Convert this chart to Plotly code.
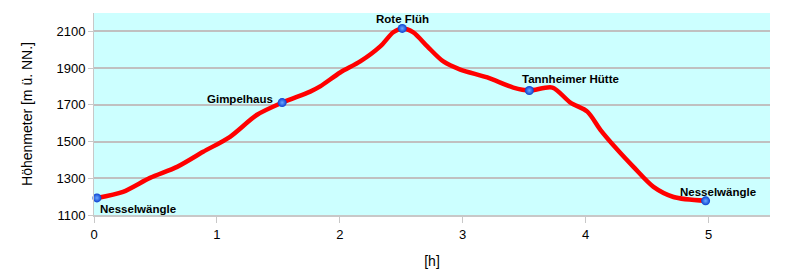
import plotly.graph_objects as go

# profile line (time in h, elevation in m)
hours = [0.024, 0.236, 0.456, 0.676, 0.888, 1.107, 1.327, 1.531, 1.759, 1.84, 2.003, 2.166,
         2.329, 2.435, 2.508, 2.598, 2.712, 2.842, 2.980, 3.200, 3.412, 3.542, 3.730,
         3.876, 4.014, 4.120, 4.259, 4.389, 4.552, 4.715, 4.976]
elev = [1193, 1226, 1302, 1362, 1444, 1526, 1646, 1712, 1772, 1800, 1876, 1936,
        2018, 2095, 2116, 2095, 2018, 1936, 1892, 1849, 1794, 1778, 1794,
        1712, 1663, 1564, 1455, 1362, 1253, 1198, 1177]

# waypoints
wp_names = ["Nesselwängle", "Gimpelhaus", "Rote Flüh", "Tannheimer Hütte", "Nesselwängle"]
wp_hours = [0.024, 1.531, 2.508, 3.542, 4.976]
wp_elev = [1193, 1712, 2116, 1778, 1177]

# label placement (anchor, pixel offsets)
lbl_anchor = ["left", "right", "center", "left", "left"]
lbl_dx = [1, -7, 0, -9, -28]
lbl_dy = [-11, 4, 9, 11, 9]

fig = go.Figure()
fig.add_trace(go.Scatter(x=hours, y=elev, mode="lines",
                         line=dict(color="#ff0000", width=4.5, shape="spline", smoothing=0.8),
                         hoverinfo="skip", showlegend=False))
fig.add_trace(go.Scatter(x=wp_hours, y=wp_elev, mode="markers",
                         marker=dict(size=9, color="#0a3fd0",
                                     gradient=dict(type="radial", color="#6aa8ff"),
                                     line=dict(width=0)),
                         cliponaxis=False, showlegend=False))

for name, xh, ye, anc, dx, dy in zip(wp_names, wp_hours, wp_elev, lbl_anchor, lbl_dx, lbl_dy):
    fig.add_annotation(x=xh, y=ye, text="<b>" + name + "</b>", showarrow=False,
                       xanchor=anc, yanchor="middle", xshift=dx, yshift=dy,
                       font=dict(family="Liberation Sans, Arial", size=11.5, color="#000000"))

fig.update_layout(
    width=790, height=278,
    margin=dict(l=94, r=20, t=13, b=63),
    paper_bgcolor="white", plot_bgcolor="#ccffff",
    font=dict(family="Liberation Sans, Arial", size=13, color="#000000"),
    xaxis=dict(range=[0, 5.5], tickvals=[0, 1, 2, 3, 4, 5], showgrid=False, zeroline=False,
               showline=True, linecolor="#c8c8c8", linewidth=2,
               ticks="outside", ticklen=6, tickcolor="#c8c8c8",
               title=dict(text="[h]", font=dict(size=14), standoff=16)),
    yaxis=dict(range=[1100, 2200], tickvals=[1100, 1300, 1500, 1700, 1900, 2100],
               showgrid=True, gridcolor="#c0c0c0", gridwidth=1.5, zeroline=False,
               showline=True, linecolor="#c8c8c8", linewidth=1,
               ticks="outside", ticklen=5, tickcolor="#c8c8c8",
               title=dict(text="Höhenmeter [m ü. NN.]", font=dict(size=14), standoff=20)),
)
fig.write_html("out.html")
